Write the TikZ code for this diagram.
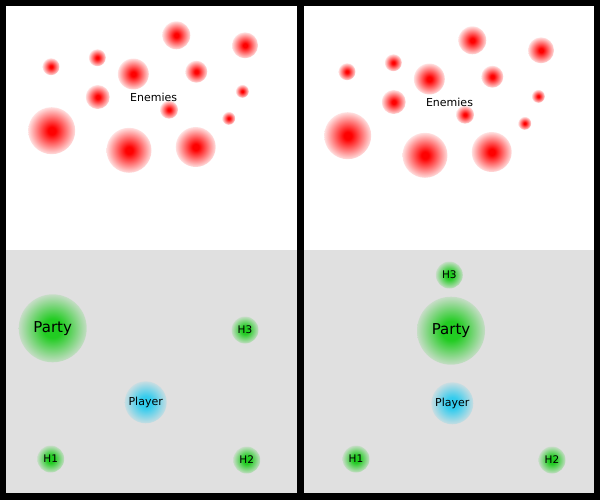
\documentclass[tikz,border=0pt]{standalone}
\usepackage{fontspec}
\setmainfont{DejaVu Sans}
\definecolor{floor}{HTML}{E0E0E0}
\definecolor{herogreen}{HTML}{22CC22}
\definecolor{playerblue}{HTML}{33CCEE}
\pgfdeclareradialshading{enemyglow}{\pgfpoint{0bp}{0bp}}{color(0bp)=(red); color(4bp)=(red); color(28bp)=(white); color(50bp)=(white)}
\pgfdeclareradialshading{heroglow}{\pgfpoint{0bp}{0bp}}{color(0bp)=(herogreen); color(7bp)=(herogreen); color(28bp)=(floor); color(50bp)=(floor)}
\pgfdeclareradialshading{playerglow}{\pgfpoint{0bp}{0bp}}{color(0bp)=(playerblue); color(7bp)=(playerblue); color(28bp)=(floor); color(50bp)=(floor)}
\tikzset{
  every picture/.style={line join=round, line cap=round},
  enemy/.style={circle, inner sep=0pt, shade, shading=enemyglow, minimum size=#1},
  hero/.style={circle, inner sep=0pt, shade, shading=heroglow, minimum size=#1, font=\fontsize{10.5}{12}\selectfont},
  party/.style={circle, inner sep=0pt, shade, shading=heroglow, minimum size=68pt, font=\fontsize{15}{17}\selectfont},
  player/.style={circle, inner sep=0pt, shade, shading=playerglow, minimum size=42pt, font=\fontsize{11}{13}\selectfont},
  tag/.style={inner sep=0pt, font=\fontsize{11}{13}\selectfont},
}

\begin{document}
\begin{tikzpicture}[x=1pt,y=-1pt]
\useasboundingbox (0,0) rectangle (600,500);
\fill[black] (0,0) rectangle (600,500);
% left panel
\fill[white] (6,6) rectangle (297,250);
\fill[floor] (6,250) rectangle (297,493);
% right panel
\fill[white] (304,6) rectangle (594,250);
\fill[floor] (304,250) rectangle (594,493);

% enemies, left
\node[enemy=17pt] (l1) at (51.0,66.7) {};
\node[enemy=17pt] (l2) at (97.3,57.7) {};
\node[enemy=31pt] (l3) at (133.3,74.0) {};
\node[enemy=28pt] (l4) at (176.3,35.3) {};
\node[enemy=26pt] (l5) at (245.0,45.3) {};
\node[enemy=22pt] (l6) at (196.3,71.7) {};
\node[enemy=24pt] (l7) at (97.7,97.0) {};
\node[enemy=13pt] (l8) at (242.3,91.3) {};
\node[enemy=18pt] (l9) at (169.0,109.7) {};
\node[enemy=13pt] (l10) at (228.7,118.3) {};
\node[enemy=47pt] (l11) at (51.7,130.7) {};
\node[enemy=45pt] (l12) at (129.0,150.3) {};
\node[enemy=40pt] (l13) at (195.7,147.0) {};
\node[tag] (lenemies) at (153.7,97.3) {Enemies};

% party, left
\node[party] (lparty) at (52.7,328.3) {Party};
\node[hero=27pt] (lh3) at (245.0,330.0) {H3};
\node[player] (lplayer) at (145.7,402.3) {Player};
\node[hero=27pt] (lh1) at (50.7,459.0) {H1};
\node[hero=27pt] (lh2) at (246.7,460.0) {H2};

% enemies, right
\node[enemy=17pt] (r1) at (347.0,71.7) {};
\node[enemy=17pt] (r2) at (393.3,62.7) {};
\node[enemy=31pt] (r3) at (429.3,79.0) {};
\node[enemy=28pt] (r4) at (472.3,40.3) {};
\node[enemy=26pt] (r5) at (541.0,50.3) {};
\node[enemy=22pt] (r6) at (492.3,76.7) {};
\node[enemy=24pt] (r7) at (393.7,102.0) {};
\node[enemy=13pt] (r8) at (538.3,96.3) {};
\node[enemy=18pt] (r9) at (465.0,114.7) {};
\node[enemy=13pt] (r10) at (524.7,123.3) {};
\node[enemy=47pt] (r11) at (347.7,135.7) {};
\node[enemy=45pt] (r12) at (425.0,155.3) {};
\node[enemy=40pt] (r13) at (491.7,152.0) {};
\node[tag] (renemies) at (449.5,102.3) {Enemies};

% party, right
\node[hero=27pt] (rh3) at (449.3,275.0) {H3};
\node[party] (rparty) at (451.0,330.7) {Party};
\node[player] (rplayer) at (452.3,403.3) {Player};
\node[hero=27pt] (rh1) at (356.0,459.0) {H1};
\node[hero=27pt] (rh2) at (552.0,460.0) {H2};
\end{tikzpicture}
\end{document}
